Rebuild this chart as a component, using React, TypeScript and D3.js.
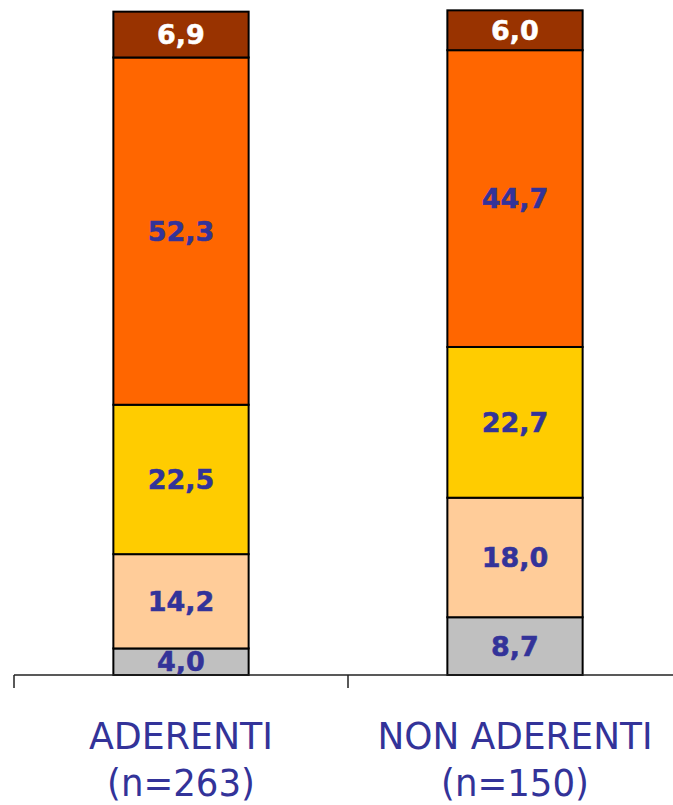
import React from "react";
import * as d3 from "d3";

const categories = ["ADERENTI", "NON ADERENTI"];
const sampleSizes = ["(n=263)", "(n=150)"];
const seriesNames = ["grey", "peach", "yellow", "orange", "brown"];
const seriesColors = ["#C0C0C0", "#FFCC99", "#FFCC00", "#FF6600", "#993300"];
const labelColors = ["#333399", "#333399", "#333399", "#333399", "#FFFFFF"];
const valuesAderenti = [4.0, 14.2, 22.5, 52.3, 6.9];
const valuesNonAderenti = [8.7, 18.0, 22.7, 44.7, 6.0];
const catLabelWidths = [184, 275];
const nLabelWidths = [148, 148];

const W = 673;
const H = 805;

export default function App() {
  const allValues = [valuesAderenti, valuesNonAderenti];
  const rows = categories.map((c, i) => {
    const r: any = { cat: c };
    seriesNames.forEach((s, j) => (r[s] = allValues[i][j]));
    return r;
  });
  const stacked = d3.stack().keys(seriesNames)(rows);

  const x = d3
    .scaleBand()
    .domain(categories)
    .range([14, 682])
    .paddingInner(0.595)
    .paddingOuter(0.2975);
  const y = d3.scaleLinear().domain([0, 100]).range([675, 11]);
  const fmt = (v: number) => d3.format(".1f")(v).replace(".", ",");

  const step = x.step();
  const bandStart = 14;
  const ticks = d3.range(categories.length + 1).map((i) => bandStart + i * step);

  return (
    <svg
      width={W}
      height={H}
      style={{ position: "absolute", left: 0, top: 0, background: "#fff" }}
    >
      {stacked.map((layer, li) => (
        <g key={layer.key}>
          {layer.map((d, i) => {
            const cat = categories[i];
            const x0 = x(cat)!;
            const y0 = y(d[1]);
            const y1 = y(d[0]);
            return (
              <rect
                key={cat}
                x={x0}
                y={y0}
                width={x.bandwidth()}
                height={y1 - y0}
                fill={seriesColors[li]}
                stroke="#000"
                strokeWidth={2}
              />
            );
          })}
        </g>
      ))}
      {stacked.map((layer, li) => (
        <g key={"l" + layer.key}>
          {layer.map((d, i) => {
            const cat = categories[i];
            const cx = x(cat)! + x.bandwidth() / 2;
            const cy = (y(d[0]) + y(d[1])) / 2;
            return (
              <text
                key={cat}
                x={cx}
                y={cy}
                dy="0.36em"
                textAnchor="middle"
                fontFamily="'DejaVu Sans', Verdana, sans-serif"
                fontWeight="bold"
                fontSize={27}
                fill={labelColors[li]}
                stroke={labelColors[li]}
                strokeWidth={0.5}
              >
                {fmt(allValues[i][li])}
              </text>
            );
          })}
        </g>
      ))}
      <line x1={14} x2={W + 10} y1={675} y2={675} stroke="#222" strokeWidth={1.5} />
      {ticks.map((t, i) => (
        <line key={i} x1={t} x2={t} y1={675} y2={688} stroke="#222" strokeWidth={1.5} />
      ))}
      {categories.map((c, i) => {
        const cx = x(c)! + x.bandwidth() / 2;
        return (
          <g key={c}>
            <text
              x={cx}
              y={749}
              textAnchor="middle"
              fontFamily="'DejaVu Sans', Tahoma, sans-serif"
              fontSize={38}
              fill="#333399"
              textLength={catLabelWidths[i]}
              lengthAdjust="spacingAndGlyphs"
            >
              {c}
            </text>
            <text
              x={cx}
              y={796}
              textAnchor="middle"
              fontFamily="'DejaVu Sans', Tahoma, sans-serif"
              fontSize={37}
              fill="#333399"
              textLength={nLabelWidths[i]}
              lengthAdjust="spacingAndGlyphs"
            >
              {sampleSizes[i]}
            </text>
          </g>
        );
      })}
    </svg>
  );
}
